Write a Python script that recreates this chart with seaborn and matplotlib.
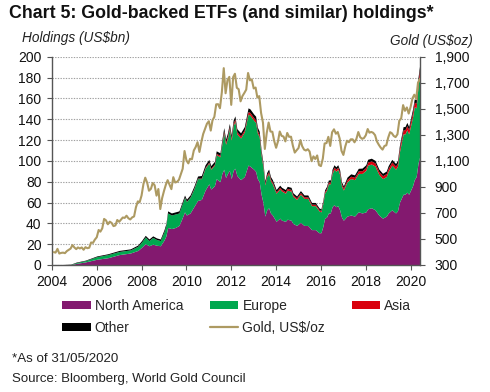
import numpy as np
import pandas as pd
import matplotlib
matplotlib.use("Agg")
import matplotlib.pyplot as plt
from matplotlib.patches import Patch
from matplotlib.lines import Line2D
from matplotlib.ticker import FuncFormatter
import seaborn as sns

# ---------------- data ----------------
# Gold price, US$/oz, month-end, Jan 2004 .. May 2020
gold_2004 = [399, 395, 424, 388, 393, 395, 391, 407, 416, 426, 453, 435]
gold_2005 = [422, 435, 427, 435, 417, 437, 429, 433, 473, 470, 495, 513]
gold_2006 = [569, 556, 582, 654, 643, 613, 633, 623, 599, 604, 646, 632]
gold_2007 = [650, 665, 662, 679, 659, 650, 666, 673, 743, 789, 783, 834]
gold_2008 = [923, 971, 933, 871, 885, 930, 913, 833, 884, 730, 814, 870]
gold_2009 = [919, 952, 916, 883, 975, 934, 939, 955, 996, 1040, 1176, 1104]
gold_2010 = [1081, 1116, 1113, 1180, 1207, 1244, 1169, 1246, 1307, 1346, 1386, 1405]
gold_2011 = [1333, 1411, 1439, 1535, 1536, 1505, 1628, 1813, 1620, 1722, 1746, 1531]
gold_2012 = [1744, 1770, 1662, 1651, 1558, 1598, 1622, 1648, 1776, 1719, 1726, 1657]
gold_2013 = [1664, 1588, 1598, 1469, 1394, 1192, 1314, 1395, 1326, 1324, 1253, 1201]
gold_2014 = [1251, 1326, 1292, 1288, 1250, 1315, 1285, 1286, 1217, 1164, 1182, 1199]
gold_2015 = [1260, 1214, 1187, 1180, 1190, 1172, 1098, 1135, 1115, 1142, 1068, 1060]
gold_2016 = [1118, 1234, 1237, 1285, 1215, 1320, 1343, 1309, 1322, 1273, 1178, 1146]
gold_2017 = [1212, 1255, 1244, 1266, 1266, 1243, 1269, 1322, 1283, 1270, 1275, 1297]
gold_2018 = [1345, 1317, 1323, 1316, 1298, 1250, 1224, 1202, 1187, 1215, 1220, 1279]
gold_2019 = [1321, 1313, 1292, 1283, 1305, 1409, 1427, 1529, 1485, 1511, 1464, 1515]
gold_2020 = [1582, 1609, 1577, 1702, 1730]

# ETF holdings, US$bn
hold_dates = ["2004-01", "2004-10", "2005-01", "2005-06", "2005-12", "2006-06", "2006-12",
              "2007-06", "2007-10", "2007-12", "2008-02", "2008-04", "2008-06", "2008-08",
              "2008-10", "2008-12", "2009-01", "2009-02", "2009-04", "2009-06", "2009-08",
              "2009-09", "2009-11", "2009-12", "2010-02", "2010-04", "2010-06", "2010-08",
              "2010-10", "2010-12", "2011-01", "2011-03", "2011-04", "2011-06", "2011-07",
              "2011-08", "2011-09", "2011-10", "2011-11", "2011-12", "2012-01", "2012-02",
              "2012-03", "2012-05", "2012-07", "2012-09", "2012-10", "2012-12", "2013-01",
              "2013-02", "2013-03", "2013-04", "2013-05", "2013-06", "2013-07", "2013-08",
              "2013-09", "2013-10", "2013-12", "2014-02", "2014-03", "2014-05", "2014-06",
              "2014-08", "2014-09", "2014-11", "2015-01", "2015-03", "2015-05", "2015-07",
              "2015-09", "2015-11", "2015-12", "2016-01", "2016-02", "2016-03", "2016-04",
              "2016-05", "2016-06", "2016-07", "2016-08", "2016-09", "2016-10", "2016-11",
              "2016-12", "2017-02", "2017-04", "2017-06", "2017-08", "2017-10", "2017-12",
              "2018-01", "2018-03", "2018-05", "2018-07", "2018-09", "2018-11", "2018-12",
              "2019-02", "2019-04", "2019-05", "2019-06", "2019-08", "2019-09", "2019-10",
              "2019-11", "2019-12", "2020-01", "2020-02", "2020-03", "2020-04", "2020-05"]
north_america = [0, 0.3, 1.5, 3, 5.5, 7, 10,
                 11.5, 14, 17, 20.5, 18.5, 20, 19,
                 18.5, 24, 28, 36, 35, 36, 38,
                 42, 51, 48, 50, 56, 62, 63,
                 72, 78, 73, 76, 83, 80, 88,
                 92, 84, 88, 91, 83, 91, 93,
                 86, 82, 85, 96, 95, 92, 90,
                 83, 80, 68, 60, 47, 53, 55,
                 50, 48, 42, 45, 43, 42, 44,
                 43, 40, 38, 41, 38, 38, 34,
                 34, 31, 31, 37, 45, 46, 50,
                 50, 56, 58, 56, 57, 53, 46,
                 43, 47, 48, 47, 51, 50, 51,
                 54, 55, 53, 48, 45, 47, 50,
                 53, 50, 52, 60, 68, 68, 70,
                 68, 72, 76, 82, 85, 98, 105]
europe = [0, 0.2, 0.8, 1.2, 2.5, 3, 3,
          3, 4, 5, 6.5, 5, 6.5, 5.5,
          5, 8, 10, 14, 13, 13, 12,
          13, 14, 13, 15, 17, 21, 20,
          21, 20, 19, 20, 23, 24, 28,
          35, 32, 34, 40, 37, 43, 45,
          40, 40, 43, 49, 49, 47, 47,
          44, 43, 38, 34, 30, 32, 33,
          31, 30, 27, 28, 28, 27, 28,
          28, 26, 25, 27, 26, 26, 23,
          23, 21, 20, 22, 24, 26, 28,
          28, 32, 34, 34, 35, 34, 30,
          29, 33, 35, 35, 37, 38, 40,
          42, 42, 42, 39, 38, 38, 40,
          43, 42, 43, 48, 58, 58, 60,
          58, 62, 66, 70, 66, 74, 80]
asia = [0, 0, 0, 0, 0, 0, 0,
        0, 0, 0, 0, 0, 0, 0,
        0, 0, 0, 0, 0, 0, 0,
        0, 0.2, 0.2, 0.3, 0.5, 0.5, 0.5,
        0.8, 1, 1, 1, 1.2, 1.3, 1.5,
        2, 2, 2, 2, 2, 2.2, 2.3,
        2, 2, 2, 2.5, 2.5, 2.5, 2.5,
        2.3, 2.3, 2, 2, 1.6, 1.7, 1.8,
        1.7, 1.7, 1.5, 1.6, 1.6, 1.5, 1.6,
        1.6, 1.5, 1.5, 1.6, 1.5, 1.5, 1.4,
        1.4, 1.3, 1.3, 1.4, 1.5, 1.6, 1.7,
        1.7, 2, 2, 2, 2.1, 2.1, 2,
        2, 2.2, 2.3, 2.3, 2.5, 2.6, 2.8,
        3, 3, 3, 2.8, 2.8, 2.9, 3,
        3, 3, 3, 3.5, 4, 4, 4,
        4, 4.2, 4.5, 4.5, 4.5, 5, 5.5]
other = [0, 0.3, 0.5, 0.5, 0.7, 0.8, 1,
         1, 1.2, 1.5, 1.5, 1.5, 1.5, 1.5,
         1.5, 2, 2, 2, 2, 2, 2,
         2, 2, 2, 2, 2, 2, 2.5,
         2.5, 2.5, 2.5, 2.5, 2.5, 2.5, 3,
         3, 3, 3, 3, 3, 3, 3,
         3, 3, 3, 3.5, 3.5, 3.5, 3.5,
         3.2, 3.2, 2.8, 2.5, 2.2, 2.3, 2.4,
         2.3, 2.3, 2, 2.1, 2, 2, 2,
         2, 1.9, 1.8, 1.9, 1.8, 1.8, 1.7,
         1.7, 1.6, 1.6, 1.7, 1.8, 1.9, 2,
         2, 2.2, 2.3, 2.3, 2.3, 2.3, 2.1,
         2, 2.2, 2.3, 2.3, 2.4, 2.5, 2.5,
         2.6, 2.6, 2.5, 2.4, 2.3, 2.4, 2.5,
         2.5, 2.5, 2.5, 2.8, 3, 3, 3,
         3, 3, 3.2, 3.2, 3.2, 3.5, 3.5]

left_ticks = list(range(0, 201, 20))
right_ticks = list(range(300, 1901, 200))
year_ticks = list(range(2004, 2021, 2))

# ---------------- build frames ----------------
gold_vals = (gold_2004 + gold_2005 + gold_2006 + gold_2007 + gold_2008 + gold_2009 +
             gold_2010 + gold_2011 + gold_2012 + gold_2013 + gold_2014 + gold_2015 +
             gold_2016 + gold_2017 + gold_2018 + gold_2019 + gold_2020)
gold_df = pd.DataFrame({
    "date": pd.date_range("2004-01-31", periods=len(gold_vals), freq="ME"),
    "gold": gold_vals,
})
hold_df = pd.DataFrame({
    "date": pd.to_datetime(hold_dates) + pd.offsets.MonthEnd(0),
    "na": north_america, "eu": europe, "asia": asia, "other": other,
})
hold_df.loc[0, "date"] = pd.Timestamp("2004-01-01")

# ---------------- style ----------------
sns.set_theme(style="white")
plt.rcParams["font.family"] = ["Liberation Sans", "DejaVu Sans"]

C_NA = "#83196F"
C_EU = "#00A84F"
C_AS = "#D9000D"
C_OT = "#000000"
C_GOLD = "#AD9A62"
AX_COL = "#555555"

fig = plt.figure(figsize=(4.9, 3.92), dpi=100)
ax = fig.add_axes([0.106, 0.324, 0.751, 0.531])

ax.stackplot(hold_df["date"], hold_df["na"], hold_df["eu"], hold_df["asia"], hold_df["other"],
             colors=[C_NA, C_EU, C_AS, C_OT], linewidth=0, zorder=2)

ax.set_ylim(0, 200)
ax.set_yticks(left_ticks)
ax.set_xlim(pd.Timestamp("2004-01-01"), pd.Timestamp("2020-05-31"))
ax.set_xticks([pd.Timestamp(f"{y}-01-01") for y in year_ticks])
ax.set_xticklabels([str(y) for y in year_ticks])
ax.yaxis.grid(True, linestyle=(0, (1.2, 1.2)), color="#a0a0a0", linewidth=0.8)
ax.xaxis.grid(False)
ax.set_axisbelow(True)
ax.tick_params(axis="both", labelsize=10, colors="#111111", length=3.5, width=0.8,
               direction="out", pad=4)
ax.tick_params(axis="y", left=True, color=AX_COL)
ax.tick_params(axis="x", bottom=True, color=AX_COL)
for s in ["top", "right"]:
    ax.spines[s].set_visible(False)
for s in ["left", "bottom"]:
    ax.spines[s].set_color(AX_COL)
    ax.spines[s].set_linewidth(1.0)
ax.set_xlabel("")
ax.set_ylabel("")

ax2 = ax.twinx()
sns.lineplot(data=gold_df, x="date", y="gold", ax=ax2, color=C_GOLD, linewidth=1.5, zorder=5)
ax2.set_ylim(300, 1900)
ax2.set_yticks(right_ticks)
ax2.yaxis.set_major_formatter(FuncFormatter(lambda v, p: f"{int(v):,}"))
ax2.tick_params(axis="y", right=True, labelsize=10, colors="#111111", color=AX_COL,
                length=3.5, width=0.8, direction="out", pad=7)
ax2.grid(False)
for s in ["top", "left", "bottom"]:
    ax2.spines[s].set_visible(False)
ax2.spines["right"].set_color(AX_COL)
ax2.spines["right"].set_linewidth(1.0)
ax2.set_xlabel("")
ax2.set_ylabel("")
ax2.set_xlim(pd.Timestamp("2004-01-01"), pd.Timestamp("2020-05-31"))

# ---------------- texts ----------------
fig.text(0.018, 0.965, "Chart 5: Gold-backed ETFs (and similar) holdings*",
         fontsize=12.8, fontweight="bold", ha="left", va="center", color="#111111")
fig.text(0.045, 0.903, "Holdings (US$bn)", fontsize=9.8, style="italic",
         ha="left", va="center", color="#222222")
fig.text(0.965, 0.896, "Gold (US$oz)", fontsize=9.8, style="italic",
         ha="right", va="center", color="#222222")
fig.text(0.024, 0.083, "*As of 31/05/2020", fontsize=9.6, ha="left", va="center", color="#222222")
fig.text(0.024, 0.034, "Source: Bloomberg, World Gold Council", fontsize=9.5,
         ha="left", va="center", color="#222222")

# ---------------- legend ----------------
handles = [
    Patch(facecolor=C_NA, edgecolor="none", label="North America"),
    Patch(facecolor=C_OT, edgecolor="none", label="Other"),
    Patch(facecolor=C_EU, edgecolor="none", label="Europe"),
    Line2D([0], [0], color=C_GOLD, linewidth=1.6, label="Gold, US$/oz"),
    Patch(facecolor=C_AS, edgecolor="none", label="Asia"),
]
fig.legend(handles=handles, ncol=3, loc="upper left", bbox_to_anchor=(0.127, 0.237),
           frameon=False, fontsize=10, handlelength=2.05, handleheight=0.45,
           handletextpad=0.3, columnspacing=1.9, labelspacing=0.55, borderaxespad=0,
           borderpad=0)

fig.savefig("out.png", dpi=100)
